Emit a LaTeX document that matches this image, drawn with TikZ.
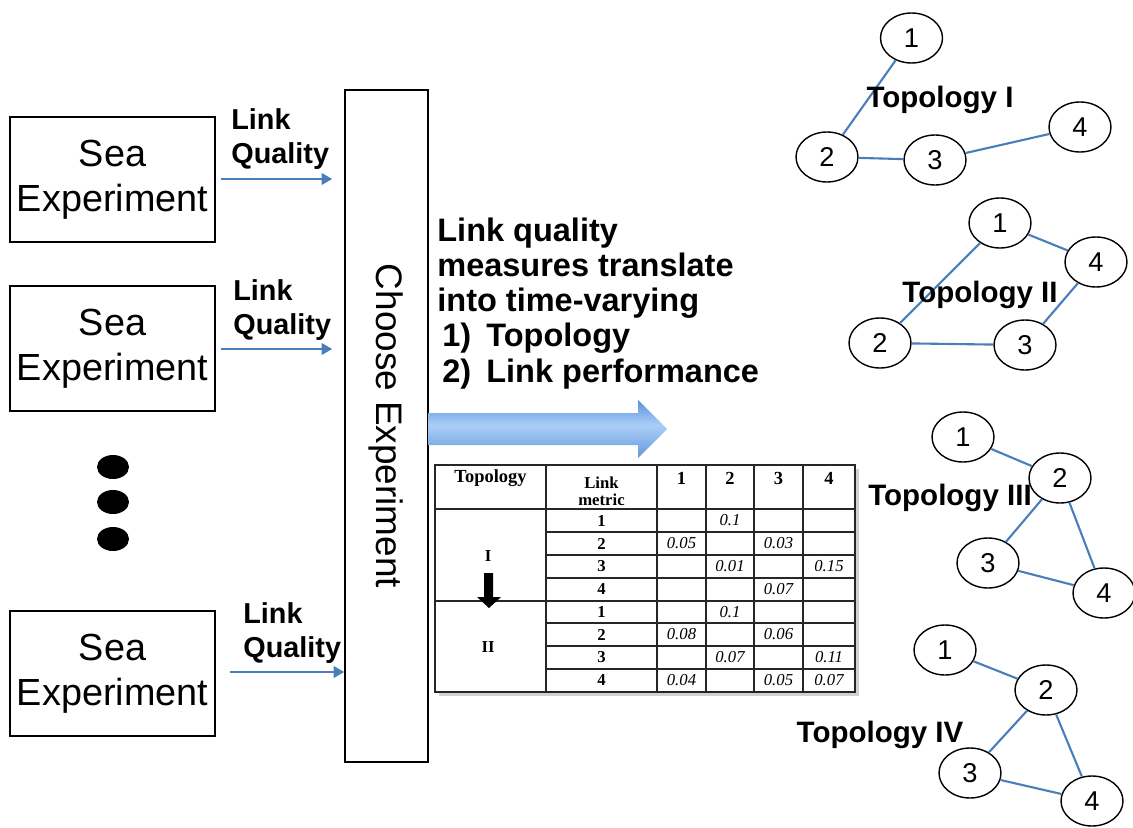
\documentclass[tikz,border=0pt]{standalone}
\usepackage{fontspec}
\setmainfont{Liberation Sans}
\newfontfamily\tabfont{Liberation Serif}
\usetikzlibrary{shapes.geometric,arrows.meta}
\definecolor{lnblue}{HTML}{4A7EBB}
\definecolor{arrtop}{HTML}{5B92DE}
\definecolor{arrmid}{HTML}{A9CDF5}
\definecolor{arrbot}{HTML}{6396DC}
\tikzset{
  seabox/.style={draw, line width=0.9pt, minimum width=4.1cm, minimum height=2.5cm, align=center, inner sep=0pt, font=\fontsize{21.5}{25.5}\selectfont},
  lqlabel/.style={anchor=north west, align=left, inner sep=0pt, font=\bfseries\fontsize{16.4}{19.3}\selectfont},
  lqarrow/.style={lnblue, line width=1.4pt, -{Triangle[length=6pt,width=6.5pt]}},
  tnode/.style={ellipse, draw, line width=0.8pt, fill=white, minimum width=1.24cm, minimum height=1.0cm, inner sep=0pt, font=\fontsize{15.5}{15.5}\selectfont},
  tedge/.style={lnblue, line width=1.2pt},
  toplabel/.style={inner sep=0pt, font=\bfseries\fontsize{16.8}{16.8}\selectfont},
  tabline/.style={line width=0.6pt, black!85},
  tabhead/.style={inner sep=0pt, font=\tabfont\bfseries\fontsize{10.5}{11}\selectfont},
  tabsub/.style={inner sep=0pt, font=\tabfont\bfseries\fontsize{9.5}{10}\selectfont},
  tabval/.style={inner sep=0pt, font=\tabfont\itshape\fontsize{9.5}{10}\selectfont},
}
\begin{document}
\begin{tikzpicture}[x=0.02cm,y=-0.02cm]
\useasboundingbox (0,0) rectangle (1133,828);

% Sea experiment boxes
\node[seabox] (s1) at (112.5,179.5) {Sea\\Experiment};
\node[seabox] (s2) at (112.5,348.5) {Sea\\Experiment};
\node[seabox] (s3) at (112.5,673.5) {Sea\\Experiment};

% dots
\fill (113,467) ellipse [x radius=0.32cm, y radius=0.24cm];
\fill (113,502) ellipse [x radius=0.32cm, y radius=0.24cm];
\fill (113,539) ellipse [x radius=0.32cm, y radius=0.24cm];

% choose experiment
\node[draw, line width=0.9pt, rotate=-90, minimum width=13.44cm, minimum height=1.66cm, inner sep=0pt, font=\fontsize{21}{21}\selectfont] (ce) at (386.5,426) {Choose Experiment};

% link quality labels
\node[lqlabel] (l1) at (231,108) {Link\\Quality};
\node[lqlabel] (l2) at (233,279) {Link\\Quality};
\node[lqlabel] (l3) at (243,602) {Link\\Quality};

\draw[lqarrow, shorten <=0.1cm, shorten >=0.24cm] (s1.east |- 0,179) -- (ce.south |- 0,179);
\draw[lqarrow, shorten <=0.1cm, shorten >=0.24cm] (s2.east |- 0,349) -- (ce.south |- 0,349);
\draw[lqarrow, shorten <=0.28cm] (s3.east |- 0,672) -- (ce.south |- 0,672);

% text block (base anchor = last line)
\node[anchor=base west, inner sep=0pt, align=left, font=\bfseries\fontsize{18.5}{19.8}\selectfont] (txt) at (437,382)
 {Link quality\\[0.2pt]measures translate\\[0.2pt]into time-varying\\[0.2pt]\hspace{0.1cm}\makebox[0.88cm][l]{1)}Topology\\[0.2pt]\hspace{0.1cm}\makebox[0.88cm][l]{2)}Link performance};

% big arrow with manual vertical gradient
\begin{scope}
\clip (428,413) -- (638,413) -- (638,400) -- (667,429) -- (638,458) -- (638,445) -- (428,445) -- cycle;
\foreach \i in {0,...,12} {
  \pgfmathsetmacro\p{100*\i/12}
  \pgfmathsetmacro\ya{400+2*\i}
  \fill[arrmid!\p!arrtop] (420,\ya) rectangle (670,\ya+2.3);
}
\foreach \i in {0,...,16} {
  \pgfmathsetmacro\p{100-100*\i/16}
  \pgfmathsetmacro\ya{426+2*\i}
  \fill[arrmid!\p!arrbot] (420,\ya) rectangle (670,\ya+2.3);
}
\end{scope}

% table
\fill[black!18] (439,469) rectangle (859,696);
\fill[white] (435,465) rectangle (855,692);
\draw[tabline] (435,465) rectangle (855,692);
\foreach \x in {546,657,706,754,803} \draw[tabline] (\x,465) -- (\x,692);
\draw[tabline] (435,509) -- (855,509);
\draw[tabline] (435,601) -- (855,601);
\foreach \y in {532,555,578,623,646,669} \draw[tabline] (546,\y) -- (855,\y);

\node[tabhead] (hTop) at (490.5,478) {Topology};
\node[tabsub] (hLink) at (601.5,483) {Link};
\node[tabsub] (hMet) at (601.5,500) {metric};
\node[tabhead] at (681.5,478) {1};
\node[tabhead] at (730,478) {2};
\node[tabhead] at (778.5,478) {3};
\node[tabhead] at (829,478) {4};
\foreach \y/\n in {520.5/1,543.5/2,566.5/3,589.5/4,612/1,634.5/2,657.5/3,680.5/4}
  \node[tabsub] at (601.5,\y) {\n};
\node[tabsub] (tI) at (488,556) {I};
\node[tabsub] (tII) at (488,647) {II};
\fill (484,573) -- (493,573) -- (493,597) -- (501,597) -- (489,608) -- (477,597) -- (484,597) -- cycle;

% values
\node[tabval] at (730,520.5) {0.1};
\node[tabval] at (681.5,543.5) {0.05};
\node[tabval] at (778.5,543.5) {0.03};
\node[tabval] at (730,566.5) {0.01};
\node[tabval] at (829,566.5) {0.15};
\node[tabval] at (778.5,589.5) {0.07};
\node[tabval] at (730,612) {0.1};
\node[tabval] at (681.5,634.5) {0.08};
\node[tabval] at (778.5,634.5) {0.06};
\node[tabval] at (730,657.5) {0.07};
\node[tabval] at (829,657.5) {0.11};
\node[tabval] at (681.5,680.5) {0.04};
\node[tabval] at (778.5,680.5) {0.05};
\node[tabval] at (829,680.5) {0.07};

% Topology I
\node[tnode] (a1) at (911.5,38) {1};
\node[tnode] (a2) at (827,157) {2};
\node[tnode] (a3) at (935,160) {3};
\node[tnode] (a4) at (1080,127) {4};
\draw[tedge] (a1) -- (a2);
\draw[tedge] (a2) -- (a3);
\draw[tedge] (a3) -- (a4);
\node[toplabel] (la) at (940,100) {Topology I};

% Topology II
\node[tnode] (b1) at (1000,223) {1};
\node[tnode] (b2) at (880,343) {2};
\node[tnode] (b3) at (1025,345) {3};
\node[tnode] (b4) at (1096,262) {4};
\draw[tedge] (b1) -- (b2);
\draw[tedge] (b1) -- (b4);
\draw[tedge] (b4) -- (b3);
\draw[tedge] (b2) -- (b3);
\node[toplabel] (lb) at (980,295) {Topology II};

% Topology III
\node[tnode] (c1) at (963,437) {1};
\node[tnode] (c2) at (1060,478) {2};
\node[tnode] (c3) at (988,563) {3};
\node[tnode] (c4) at (1104,593) {4};
\draw[tedge] (c1) -- (c2);
\draw[tedge] (c2) -- (c3);
\draw[tedge] (c2) -- (c4);
\draw[tedge] (c3) -- (c4);
\node[toplabel] (lc) at (950,498) {Topology III};

% Topology IV
\node[tnode] (d1) at (945,650) {1};
\node[tnode] (d2) at (1046,690) {2};
\node[tnode] (d3) at (970,773) {3};
\node[tnode] (d4) at (1092,801) {4};
\draw[tedge] (d1) -- (d2);
\draw[tedge] (d2) -- (d3);
\draw[tedge] (d2) -- (d4);
\draw[tedge] (d3) -- (d4);
\node[toplabel] (ld) at (880,735) {Topology IV};
\end{tikzpicture}
\end{document}
